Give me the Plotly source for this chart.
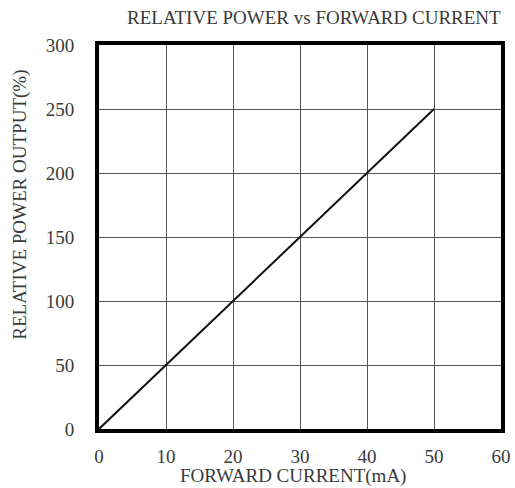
import plotly.graph_objects as go

current_ma = [0, 10, 20, 30, 40, 50]
relative_power = [0, 50, 100, 150, 200, 250]
x_ticks = [0, 10, 20, 30, 40, 50, 60]
y_ticks = [0, 50, 100, 150, 200, 250, 300]

W, H = 515, 488
L, R, T, B = 99, 13.5, 45.3, 58.5
PW, PH = W - L - R, H - T - B
FONT = "Liberation Serif"
TXT = "#3a3a3a"

def paper_x(px):
    return (px - L) / PW

def paper_y(px):
    return (H - B - px) / PH

fig = go.Figure()
fig.add_trace(go.Scatter(x=current_ma, y=relative_power, mode="lines",
                         line=dict(color="#111", width=2), showlegend=False,
                         hoverinfo="skip"))

axis_common = dict(showgrid=True, gridcolor="#555", gridwidth=1,
                   showline=True, linecolor="black", linewidth=4, mirror=True,
                   zeroline=False, ticks="", tickfont=dict(family=FONT, size=19, color=TXT))
fig.update_xaxes(range=[0, 60], tickvals=x_ticks, ticklabelstandoff=7, **axis_common)
fig.update_yaxes(range=[0, 300], tickvals=y_ticks, ticklabelstandoff=17, **axis_common)

fig.update_layout(
    width=W, height=H, margin=dict(l=L, r=R, t=T, b=B, autoexpand=False),
    plot_bgcolor="white", paper_bgcolor="white",
    annotations=[
        dict(text="RELATIVE POWER vs FORWARD CURRENT", xref="paper", yref="paper",
             x=paper_x(504), y=paper_y(18), xanchor="right", yanchor="middle",
             showarrow=False, font=dict(family=FONT, size=19, color=TXT)),
        dict(text="FORWARD CURRENT(mA)", xref="paper", yref="paper",
             x=paper_x(293), y=paper_y(477), xanchor="center", yanchor="middle",
             showarrow=False, font=dict(family=FONT, size=19, color=TXT)),
        dict(text="RELATIVE POWER OUTPUT(%)", xref="paper", yref="paper",
             x=paper_x(20), y=paper_y(205), xanchor="center", yanchor="middle",
             textangle=-90, showarrow=False, font=dict(family=FONT, size=19, color=TXT)),
    ],
)
fig.write_html("out.html", config={"displayModeBar": False},
               post_script="document.body.style.margin='0';document.body.style.overflow='hidden';")
